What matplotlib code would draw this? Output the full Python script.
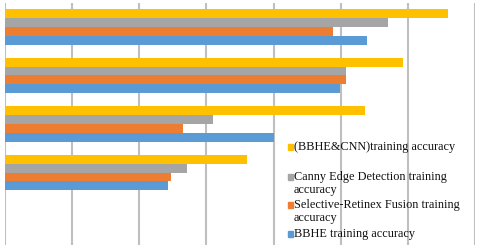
import numpy as np
import matplotlib.pyplot as plt
from matplotlib.patches import Rectangle

# categories from top to bottom (last slot is empty in the original)
groups = ["G1", "G2", "G3", "G4", ""]
bbhe_cnn = [6.60, 5.93, 5.36, 3.61]
canny = [5.71, 5.08, 3.10, 2.71]
retinex = [4.89, 5.08, 2.65, 2.47]
bbhe = [5.39, 4.99, 4.00, 2.43]

series = [
    ("(BBHE&CNN)training accuracy", bbhe_cnn, "#FFC000"),
    ("Canny Edge Detection training\naccuracy", canny, "#A5A5A5"),
    ("Selective-Retinex Fusion training\naccuracy", retinex, "#ED7D31"),
    ("BBHE training accuracy", bbhe, "#5B9BD5"),
]

W, H = 480, 249
fig = plt.figure(figsize=(W / 100, H / 100), dpi=100)
ax = fig.add_axes([5 / W, 1 - 245.25 / H, 470 / W, 242.5 / H])

bw = 0.185
y = np.arange(len(bbhe))
for k, (name, vals, col) in enumerate(series):
    off = (k - 1.5) * bw
    ax.barh(y + off, vals, height=bw, color=col, zorder=2)

ax.set_xlim(0, 7)
ax.set_ylim(len(groups) - 0.5, -0.5)
ax.set_xticks(range(8))
ax.set_yticks([])
ax.tick_params(length=0, labelbottom=False)
ax.grid(axis="x", color="#BFBFBF", lw=1.5, zorder=0)
for s in ax.spines.values():
    s.set_visible(False)

# legend drawn by hand to mimic the wrapped layout of the original
# (y of the first text line, in pixels from the top)
leg_y = [147, 177, 205, 234]
step = 13.5
for (name, vals, col), ly in zip(series, leg_y):
    nlines = name.count("\n") + 1
    fig.patches.append(Rectangle((287.5 / W, 1 - (ly + 2.5) / H), 5.5 / W, 5.5 / H,
                                 transform=fig.transFigure, color=col))
    cy = ly + (nlines - 1) * step / 2
    fig.text(294 / W, 1 - cy / H, name, family="Liberation Serif", fontsize=8.8,
             va="center", ha="left", linespacing=1.08, color="#111111")

fig.savefig("out.png", dpi=100)
